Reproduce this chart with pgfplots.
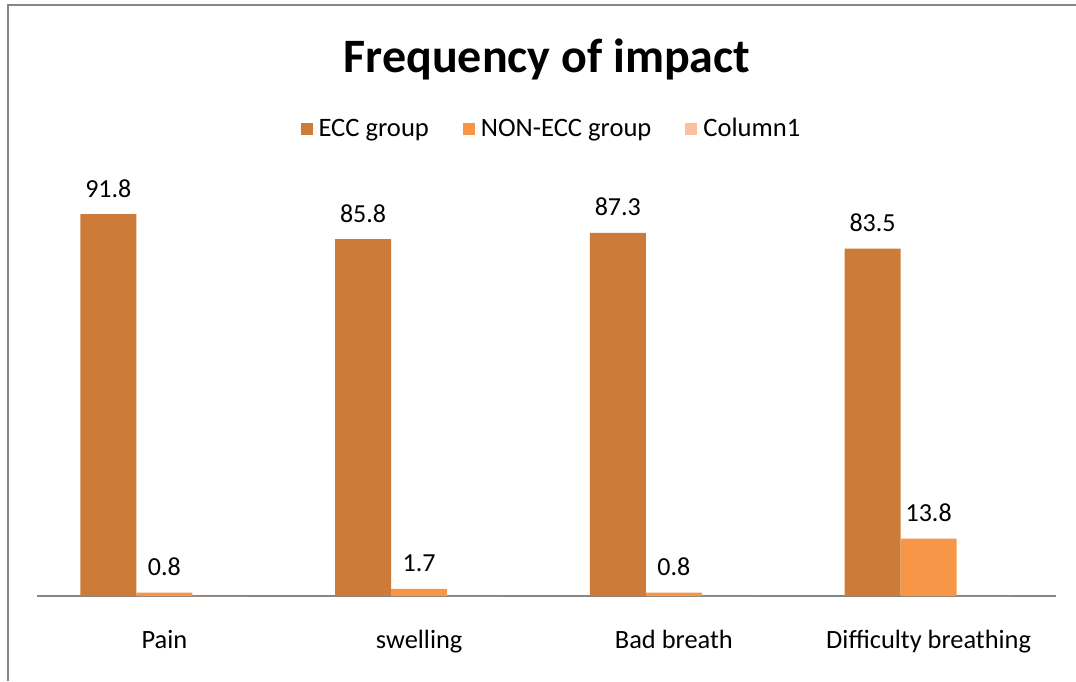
\documentclass[border=0pt]{standalone}
\usepackage{pgfplots}
\pgfplotsset{compat=1.18}
\usepackage{fontspec}
\setmainfont{Carlito}
\definecolor{ecc}{RGB}{204,123,56}
\definecolor{nonecc}{RGB}{247,150,70}
\definecolor{colone}{RGB}{250,192,160}
\definecolor{framec}{RGB}{134,134,134}
\begin{document}
\begin{tikzpicture}
\path[use as bounding box] (0,0) rectangle (538pt,340.5pt);
\draw[framec, line width=1pt] (4pt,0) -- (4pt,338pt) -- (538pt,338pt);
\node[font=\fontsize{24}{28}\selectfont\bfseries, anchor=center] at (273.5pt,311pt) {Frequency of impact};
\begin{axis}[
  at={(18.5pt,42.5pt)}, anchor=south west,
  width=509.5pt, height=208pt, scale only axis,
  xmin=-0.5, xmax=3.5, ymin=0, ymax=100,
  hide y axis, axis x line*=bottom,
  x axis line style={draw=framec, line width=0.75pt, -},
  xtick={0,1,2,3},
  xticklabels={Pain, swelling, Bad breath, Difficulty breathing},
  major tick length=0pt,
  xticklabel style={anchor=base, yshift=-26pt, font=\fontsize{13.2}{15}\selectfont},
  ybar, bar width=0.22,
  point meta=explicit symbolic,
  every node near coord/.append style={font=\fontsize{13}{15}\selectfont, anchor=base, yshift=8.5pt, inner sep=0pt, text=black},
  legend style={draw=none, fill=none, legend columns=3, at={(0.5,1)}, anchor=center,
    yshift=25.5pt, xshift=3pt, font=\fontsize{13.3}{15}\selectfont,
    /tikz/every even column/.append style={column sep=15pt}},
  legend image code/.code={\fill[#1] (0pt,-3pt) rectangle (6pt,3pt); \path (0pt,0pt) -- (7pt,0pt);},
]
\addplot[fill=ecc, draw=none, bar shift=-0.22, nodes near coords] coordinates {(0,91.8)[91.8] (1,85.8)[85.8] (2,87.3)[87.3] (3,83.5)[83.5]};
\addplot[fill=nonecc, draw=none, bar shift=0, nodes near coords] coordinates {(0,0.8)[0.8] (1,1.7)[1.7] (2,0.8)[0.8] (3,13.8)[13.8]};
\addplot[fill=colone, draw=none, bar shift=0.22] coordinates {(0,0) (1,0) (2,0) (3,0)};
\legend{ECC group, NON-ECC group, Column1}
\end{axis}
\end{tikzpicture}
\end{document}
